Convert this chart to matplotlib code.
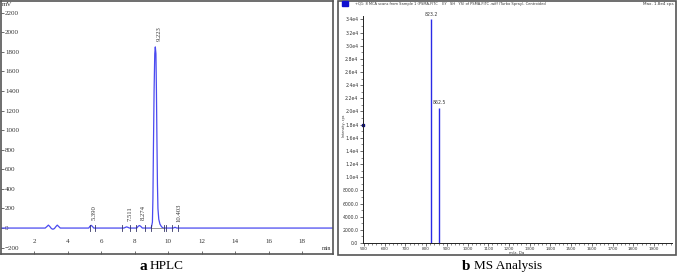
import matplotlib
matplotlib.use("Agg")
import matplotlib.pyplot as plt
from matplotlib.patches import Rectangle
from matplotlib.ticker import MultipleLocator

# HPLC trace (time in min, signal in mV)
hplc_time = [0.0, 2.65, 2.75, 2.84, 2.93, 3.02, 3.11, 3.20, 3.29, 3.37, 3.46, 3.55,
             5.25, 5.32, 5.39, 5.46, 5.55, 7.35, 7.45, 7.51, 7.58, 7.68,
             8.12, 8.20, 8.274, 8.35, 8.45, 8.98, 9.05, 9.08, 9.11, 9.15, 9.19,
             9.223, 9.26, 9.29, 9.32, 9.35, 9.38, 9.43, 9.50, 9.60, 9.70,
             10.30, 10.40, 10.50, 19.8]
hplc_mv = [0, 0, 15, 30, 15, -5, -12, -5, 15, 30, 15, 0,
           0, 18, 28, 18, 0, 0, 8, 12, 8, 0,
           0, 18, 26, 18, 0, 0, 60, 300, 800, 1400, 1780,
           1850, 1780, 1400, 900, 450, 200, 90, 40, 12, 0,
           0, 8, 0, 0]

peak_rt = [5.390, 7.511, 8.274, 9.223, 10.403]
peak_lbl = ["5.390", "7.511", "8.274", "9.223", "10.403"]
peak_top = [28, 12, 26, 1850, 8]
# integration start/end markers
marks = [5.31, 5.65, 7.24, 7.74, 8.05, 8.59, 8.97, 9.76, 9.86, 10.22, 10.58]

hplc_yticks = [-200, 0, 200, 400, 600, 800, 1000, 1200, 1400, 1600, 1800, 2000, 2200]
hplc_xticks = [2, 4, 6, 8, 10, 12, 14, 16, 18]

# MS spectrum
ms_mz = [823.2, 862.5]
ms_int = [34000, 20600]
ms_yticks = [0, 2000, 4000, 6000, 8000, 10000, 12000, 14000, 16000, 18000,
             20000, 22000, 24000, 26000, 28000, 30000, 32000, 34000]
ms_ylabels = ["0.0", "2000.0", "4000.0", "6000.0", "8000.0", "1.0e4", "1.2e4", "1.4e4",
              "1.6e4", "1.8e4", "2.0e4", "2.2e4", "2.4e4", "2.6e4", "2.8e4", "3.0e4",
              "3.2e4", "3.4e4"]
ms_xticks = list(range(500, 2000, 100))

W, H = 677, 276
fig = plt.figure(figsize=(W / 100, H / 100), dpi=100)


def rect(x0, y0, x1, y1):
    # pixel box (top-left origin) -> figure fraction
    return [x0 / W, 1 - y1 / H, (x1 - x0) / W, (y1 - y0) / H]


serif = "Liberation Serif"
blue = "#4a4af0"
frame = "#555555"

# ---- a: HPLC ----
ax = fig.add_axes(rect(0.8, 0.8, 332.5, 254))
ax.plot(hplc_time, hplc_mv, color=blue, lw=0.9)
ax.plot([8.97, 9.76], [4, 4], color="#888888", lw=0.6)
for m in marks:
    ax.plot([m, m], [-30, 30], color="#333366", lw=0.6)
for rt, lab, top in zip(peak_rt, peak_lbl, peak_top):
    ax.annotate(lab, (rt, top), xytext=(2.5, 4), textcoords="offset points",
                rotation=90, ha="center", va="bottom", fontsize=4.8, family=serif,
                color="#333333")
ax.set_xlim(0, 19.8)
ax.set_ylim(-265, 2321)
ax.set_yticks(hplc_yticks)
ax.set_xticks(hplc_xticks)
ax.tick_params(axis="y", direction="in", length=2, width=0.5, pad=-3,
               labelsize=5, colors="#333333")
ax.tick_params(axis="x", direction="in", length=2, width=0.5, pad=-7,
               labelsize=5, colors="#333333")
for t in ax.get_yticklabels():
    t.set_ha("left")
    t.set_family(serif)
for t in ax.get_xticklabels():
    t.set_family(serif)
    t.set_va("bottom")
for s in ax.spines.values():
    s.set_color(frame)
    s.set_linewidth(1.2)
ax.text(0.004, 0.995, "mV", transform=ax.transAxes, ha="left", va="top",
        fontsize=5, family=serif, color="#333333")
ax.text(0.995, 0.012, "min", transform=ax.transAxes, ha="right", va="bottom",
        fontsize=4.3, family=serif, color="#333333")

# ---- b: MS ----
fig.patches.append(Rectangle((338 / W, 1 - 255 / H), (676 - 338) / W, 254.5 / H,
                             transform=fig.transFigure, fill=False,
                             edgecolor=frame, lw=1.2))
bx = fig.add_axes(rect(363, 15.5, 672, 243))
bx.vlines(ms_mz, 0, ms_int, color="#2a2ae6", lw=1.0)
for mz, it in zip(ms_mz, ms_int):
    bx.annotate(f"{mz:.1f}", (mz, it), xytext=(0, 2), textcoords="offset points",
                ha="center", va="bottom", fontsize=3.3, color="#333333")
bx.set_xlim(495, 1987)
bx.set_ylim(0, 34600)
bx.set_yticks(ms_yticks)
bx.set_yticklabels(ms_ylabels)
bx.set_xticks(ms_xticks)
bx.xaxis.set_minor_locator(MultipleLocator(20))
bx.yaxis.set_minor_locator(MultipleLocator(1000))
bx.tick_params(which="major", length=2.2, width=0.5, labelsize=3.3, pad=1.2,
               colors="#333333")
bx.tick_params(axis="x", which="major", labelsize=3.0, pad=0.6, length=2)
bx.tick_params(which="minor", length=1.2, width=0.4, colors="#333333")
for s in ["top", "right"]:
    bx.spines[s].set_visible(False)
for s in ["left", "bottom"]:
    bx.spines[s].set_linewidth(0.7)
    bx.spines[s].set_color("#222222")
bx.plot([495], [18000], marker="s", ms=2, color="#101080", clip_on=False)
fig.text(343.5 / W, 1 - 126 / H, "Intensity, cps", fontsize=2.4, rotation=90,
         ha="center", va="center", color="#333333")
fig.text(517 / W, 1 - 252.8 / H, "m/z, Da", fontsize=2.9, ha="center",
         va="center", color="#333333")

fig.patches.append(Rectangle((342 / W, 1 - 6 / H), 6 / W, 5 / H,
                             transform=fig.transFigure, color="#1010d0"))
fig.text(355 / W, 1 - 3.8 / H,
         "+Q1: 8 MCA scans from Sample 1 (PSMA-FITC    EY   SH   YS) of PSMA-FITC .wiff (Turbo Spray), Centroided",
         fontsize=2.65, va="center", ha="left", color="#333333")
fig.text(674 / W, 1 - 3.8 / H, "Max. 1.8e4 cps", fontsize=3.0, va="center",
         ha="right", color="#333333")

# captions
fig.text(147 / W, 1 - 266 / H, "a", fontsize=11, weight="bold", family=serif,
         ha="right", va="center")
fig.text(150 / W, 1 - 266 / H, "HPLC", fontsize=9.5, family=serif,
         ha="left", va="center")
fig.text(470 / W, 1 - 266 / H, "b", fontsize=11, weight="bold", family=serif,
         ha="right", va="center")
fig.text(474 / W, 1 - 266 / H, "MS Analysis", fontsize=9.5, family=serif,
         ha="left", va="center")

fig.savefig("out.png", dpi=100)
